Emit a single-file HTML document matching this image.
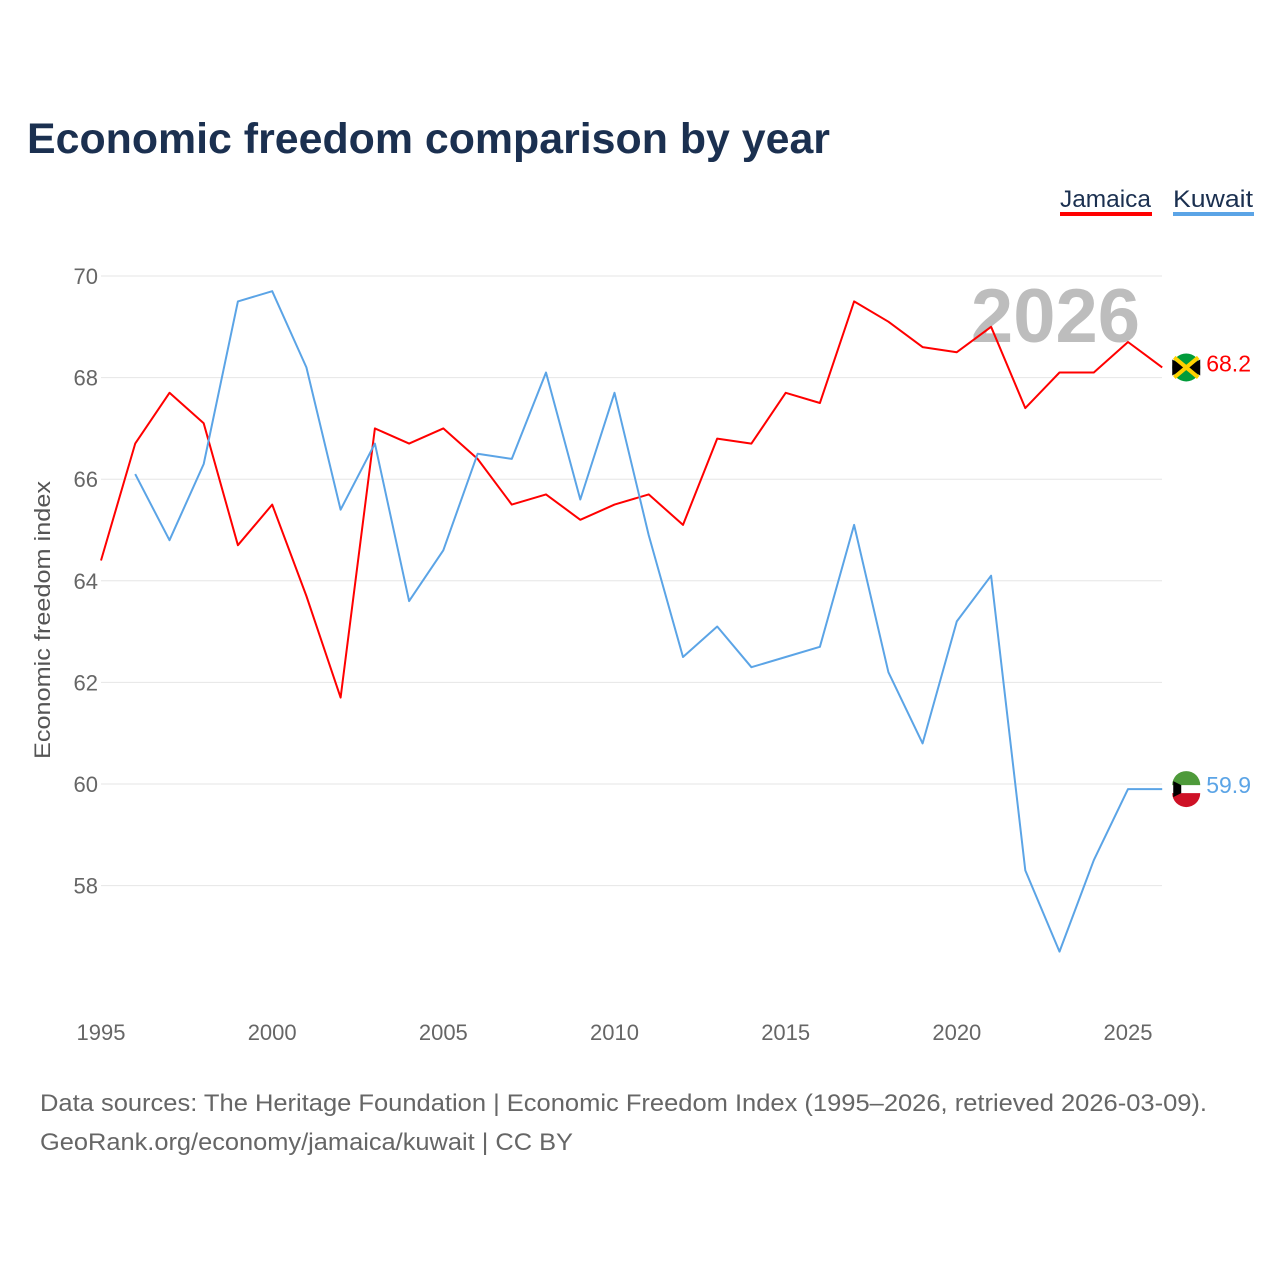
<!DOCTYPE html>
<html><head><meta charset="utf-8">
<style>
body{margin:0;background:#fff;font-family:"Liberation Sans",sans-serif;}
#wrap{position:relative;width:1280px;height:1280px;overflow:hidden;}
</style></head>
<body>
<div id="wrap">
<svg id="chart" width="1280" height="1280" viewBox="0 0 1280 1280">
  <text x="27" y="153" font-size="43" font-weight="bold" fill="#1b3050" textLength="803" lengthAdjust="spacingAndGlyphs">Economic freedom comparison by year</text>
  <g>
    <text x="1060" y="207" font-size="24" fill="#1b3050" textLength="91" lengthAdjust="spacingAndGlyphs">Jamaica</text>
    <rect x="1060" y="212" width="92" height="4" fill="#ff0000"/>
  </g>
  <g>
    <text x="1173" y="207" font-size="24" fill="#1b3050" textLength="80" lengthAdjust="spacingAndGlyphs">Kuwait</text>
    <rect x="1173" y="212" width="81" height="4" fill="#5ba4e6"/>
  </g>
  <g id="grid"></g>
  <g id="yticks"></g>
  <g id="xticks"></g>
  <text x="1140" y="342" text-anchor="end" font-size="76" font-weight="bold" fill="#bdbdbd">2026</text>
  <text transform="translate(50,620) rotate(-90)" text-anchor="middle" font-size="22" fill="#555" textLength="278" lengthAdjust="spacingAndGlyphs">Economic freedom index</text>
  <g id="series"></g>
  <text x="40" y="1111" font-size="24" fill="#666" textLength="1167" lengthAdjust="spacingAndGlyphs">Data sources: The Heritage Foundation | Economic Freedom Index (1995–2026, retrieved 2026-03-09).</text>
  <text x="40" y="1150" font-size="24" fill="#666" textLength="533" lengthAdjust="spacingAndGlyphs">GeoRank.org/economy/jamaica/kuwait | CC BY</text>
</svg>
</div>
<script>
const years = [1995,1996,1997,1998,1999,2000,2001,2002,2003,2004,2005,2006,2007,2008,2009,2010,2011,2012,2013,2014,2015,2016,2017,2018,2019,2020,2021,2022,2023,2024,2025,2026];
const jamaica = [64.4,66.7,67.7,67.1,64.7,65.5,63.7,61.7,67.0,66.7,67.0,66.4,65.5,65.7,65.2,65.5,65.7,65.1,66.8,66.7,67.7,67.5,69.5,69.1,68.6,68.5,69.0,67.4,68.1,68.1,68.7,68.2];
const kuwait = [null,66.1,64.8,66.3,69.5,69.7,68.2,65.4,66.7,63.6,64.6,66.5,66.4,68.1,65.6,67.7,64.9,62.5,63.1,62.3,62.5,62.7,65.1,62.2,60.8,63.2,64.1,58.3,56.7,58.5,59.9,59.9];
const yTicks = [58,60,62,64,66,68,70];
const xTicks = [1995,2000,2005,2010,2015,2020,2025];

const NS="http://www.w3.org/2000/svg";
const x = v => 101 + (v-1995)*(1128-101)/30;
const y = v => 276 + (70-v)*(784-276)/10;
function mk(tag, attrs, parent){const e=document.createElementNS(NS,tag);for(const k in attrs)e.setAttribute(k,attrs[k]);parent.appendChild(e);return e;}

const grid=document.getElementById('grid'), yt=document.getElementById('yticks'), xt=document.getElementById('xticks'), ser=document.getElementById('series');
yTicks.forEach(t=>{
  const l=mk('line',{x1:101,x2:1162,y1:y(t),y2:y(t),stroke:'#e6e6e6','stroke-width':1},grid);
  
  
  const tx=mk('text',{x:98,y:y(t)+8,'text-anchor':'end','font-size':22,fill:'#666'},yt);
  tx.textContent=t;
  
  
});
xTicks.forEach(t=>{
  const tx=mk('text',{x:x(t),y:1040,'text-anchor':'middle','font-size':22,fill:'#666'},xt);
  tx.textContent=t;
  
  
});
function line(vals,color,name){
  let d='';
  vals.forEach((v,i)=>{ if(v==null) return; d+=(d?'L':'M')+x(years[i]).toFixed(1)+','+y(v).toFixed(1);});
  const p=mk('path',{d:d,fill:'none',stroke:color,'stroke-width':2,'stroke-linejoin':'round'},ser);
  
  
  const last=vals[vals.length-1], lx=x(years[years.length-1]);
  const g=mk('g',{},ser);
  
  
  const cx=lx+24, cy=y(last);
  if(name==='jamaica'){
    mk('circle',{cx:cx,cy:cy,r:14,fill:'#009b3a'},g);
    mk('path',{d:`M${cx-14},${cy-8}L${cx},${cy}L${cx-14},${cy+8}Z M${cx+14},${cy-8}L${cx},${cy}L${cx+14},${cy+8}Z`,fill:'#000'},g);
    mk('path',{d:`M${cx-12},${cy-10}L${cx+12},${cy+10}M${cx+12},${cy-10}L${cx-12},${cy+10}`,stroke:'#fed100','stroke-width':4},g);
  } else {
    mk('circle',{cx:cx,cy:cy,r:14,fill:'#fff'},g);
    mk('path',{d:`M${cx-14},${cy-4}A14,14 0 0 1 ${cx+14},${cy-4}Z`,fill:'#4e9a3a'},g);
    mk('path',{d:`M${cx-14},${cy+4}A14,14 0 0 0 ${cx+14},${cy+4}Z`,fill:'#ce1126'},g);
    mk('path',{d:`M${cx-13},${cy-8}L${cx-5},${cy-4}L${cx-5},${cy+4}L${cx-13},${cy+8}Z`,fill:'#000'},g);
  }
  const t=mk('text',{x:cx+20,y:cy+4,'font-size':23,fill:color},g);
  t.textContent=last.toFixed(1);
}
line(jamaica,'#ff0000','jamaica');
line(kuwait,'#5ba4e6','kuwait');
</script>
</body></html>
